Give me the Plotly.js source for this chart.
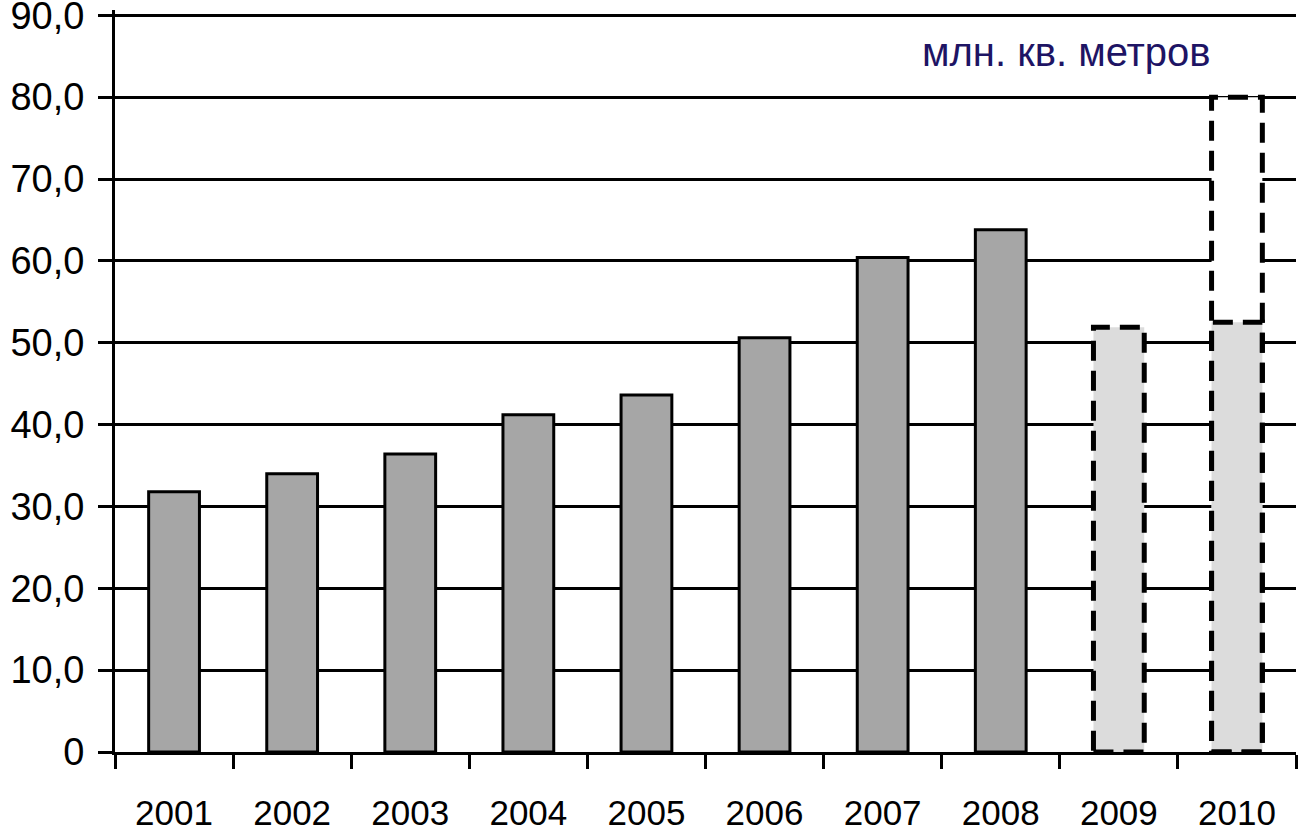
<!DOCTYPE html>
<html>
<head>
<meta charset="utf-8">
<script src="https://cdn.plot.ly/plotly-3.0.1.min.js"></script>
<style>html,body{margin:0;padding:0;background:#fff;}#chart{width:1298px;height:831px;}</style>
</head>
<body>
<div id="chart"></div>
<script>
const years = ['2001','2002','2003','2004','2005','2006','2007','2008','2009','2010'];
const values = [31.8, 34.0, 36.4, 41.2, 43.6, 50.6, 60.4, 63.8, 51.9, 52.5];
const isForecast = [false,false,false,false,false,false,false,false,true,true];
const upperForecast = [null,null,null,null,null,null,null,null,null,80.0];
const yTickVals = [0,10,20,30,40,50,60,70,80,90];
const yTickText = ['0','10,0','20,0','30,0','40,0','50,0','60,0','70,0','80,0','90,0'];
const unitLabel = 'млн. кв. метров';

const bargap = 0.57;
const halfW = (1 - bargap) / 2;

const upperTrace = {
  type: 'bar', x: years, y: upperForecast,
  marker: {color: '#ffffff', line: {width: 0}},
  hoverinfo: 'skip', showlegend: false
};
const mainTrace = {
  type: 'bar', x: years, y: values,
  marker: {
    color: isForecast.map(f => f ? '#dcdcdc' : '#a6a6a6'),
    line: {color: '#000000', width: isForecast.map(f => f ? 0 : 3)}
  },
  showlegend: false
};

const shapes = [];
years.forEach((yr, i) => {
  const dashLine = {color: '#000000', width: 5, dash: '20px,10px'};
  if (upperForecast[i] != null) {
    shapes.push({type: 'rect', xref: 'x', yref: 'y', x0: i - halfW, x1: i + halfW, y0: 0, y1: upperForecast[i], line: dashLine, fillcolor: 'rgba(0,0,0,0)'});
  }
  if (isForecast[i]) {
    shapes.push({type: 'rect', xref: 'x', yref: 'y', x0: i - halfW, x1: i + halfW, y0: 0, y1: values[i], line: dashLine, fillcolor: 'rgba(0,0,0,0)'});
  }
});

const layout = {
  width: 1298, height: 831,
  margin: {l: 115, r: 2, t: 10, b: 79, pad: 0},
  paper_bgcolor: '#ffffff', plot_bgcolor: '#ffffff',
  barmode: 'overlay', bargap: bargap,
  font: {family: 'Liberation Sans, Arial, sans-serif', color: '#000000'},
  xaxis: {
    type: 'category', showline: true, linecolor: '#000', linewidth: 3,
    ticks: 'outside', ticklen: 14, tickwidth: 3, tickcolor: '#000',
    tickson: 'boundaries', showgrid: false,
    tickfont: {size: 35, family: 'Liberation Sans, Arial, sans-serif', color: '#000'},
    ticklabelstandoff: 28, ticklabeloverflow: 'allow', fixedrange: true
  },
  yaxis: {
    range: [0, 90.65], tickvals: yTickVals, ticktext: yTickText,
    showline: true, linecolor: '#000', linewidth: 3,
    ticks: 'outside', ticklen: 14, tickwidth: 3, tickcolor: '#000',
    showgrid: true, gridcolor: '#000', gridwidth: 3,
    zeroline: false,
    tickfont: {size: 38, family: 'Liberation Sans, Arial, sans-serif', color: '#000'},
    ticklabelstandoff: 6, ticklabeloverflow: 'allow', fixedrange: true
  },
  shapes: shapes,
  annotations: [{
    text: unitLabel, xref: 'paper', yref: 'paper', x: 0.930, y: 0.943,
    xanchor: 'right', yanchor: 'middle', showarrow: false,
    font: {size: 40, family: 'Liberation Sans, Arial, sans-serif', color: '#1e1464'}
  }]
};

Plotly.newPlot('chart', [upperTrace, mainTrace], layout, {displayModeBar: false, staticPlot: true});
</script>
</body>
</html>
